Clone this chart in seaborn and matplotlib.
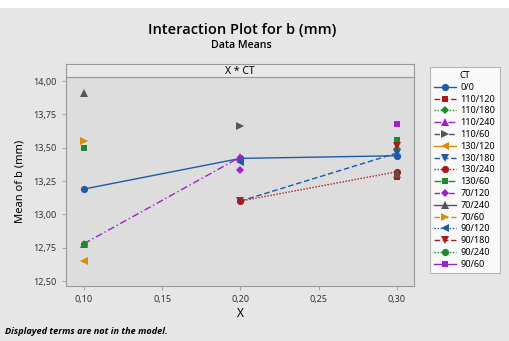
import pandas as pd
import matplotlib
matplotlib.use("Agg")
from matplotlib import pyplot as plt
from matplotlib.ticker import FuncFormatter, FixedLocator
from matplotlib.patches import Rectangle
import seaborn as sns

# cell means
x_level = [0.1, 0.1, 0.1, 0.1, 0.1, 0.1, 0.1,
           0.2, 0.2, 0.2, 0.2, 0.2, 0.2, 0.2,
           0.3, 0.3, 0.3, 0.3, 0.3, 0.3, 0.3, 0.3, 0.3]
ct_level = ["70/240", "70/60", "130/60", "0/0", "90/240", "110/240", "130/120",
            "110/60", "110/240", "0/0", "90/120", "70/120", "130/180", "130/240",
            "90/60", "130/60", "90/180", "110/180", "130/180", "0/0", "130/240", "70/240", "110/120"]
b_mean = [13.91, 13.55, 13.50, 13.19, 12.78, 12.78, 12.65,
          13.66, 13.43, 13.42, 13.39, 13.33, 13.10, 13.10,
          13.68, 13.56, 13.51, 13.49, 13.46, 13.44, 13.32, 13.30, 13.28]

ct_order = ["0/0", "110/120", "110/180", "110/240", "110/60", "130/120", "130/180", "130/240",
            "130/60", "70/120", "70/240", "70/60", "90/120", "90/180", "90/240", "90/60"]
x_ticks = [0.10, 0.15, 0.20, 0.25, 0.30]
y_ticks = [12.50, 12.75, 13.00, 13.25, 13.50, 13.75, 14.00]

# Minitab-like styling per level
blue, red, green, purple, gray, orange = "#1f5aa6", "#a81c1c", "#1e8a2e", "#a020c8", "#555555", "#d98c0a"
colors = [blue, red, green, purple, gray, orange, blue, red, green, purple, gray, orange, blue, red, green, purple]
marks = ["o", "s", "D", "^", ">", "<", "v", "o", "s", "D", "^", ">", "<", "v", "o", "s"]
solid, dash, dot, dashdot, dashdotdot = "", (4, 2), (1, 1.2), (5, 2, 1, 2), (4, 1.5, 1, 1.5, 1, 1.5)
line_styles = [solid, dash, dot, dashdot, dashdotdot, solid, dash, dot,
               dashdot, dashdotdot, solid, dash, dot, dash, dot, solid]
# rough visual balance between marker shapes
marker_size = {"o": 5.2, "s": 5.0, "D": 4.2, "^": 6.2, "v": 6.2, "<": 6.2, ">": 6.2}

df = pd.DataFrame({"X": x_level, "CT": ct_level, "b": b_mean})
df = df.sort_values(["CT", "X"]).reset_index(drop=True)
# Minitab breaks the line where a cell is missing
seg = []
for ct, grp in df.groupby("CT", sort=False):
    s, prev = 0, None
    for x in grp["X"]:
        if prev is not None and x - prev > 0.101:
            s += 1
        seg.append(f"{ct}_{s}")
        prev = x
df["seg"] = seg

plt.rcParams["font.family"] = ["Noto Sans", "DejaVu Sans"]
fig = plt.figure(figsize=(5.1, 3.41), dpi=100, facecolor="#e6e6e6")
fig.patches.append(Rectangle((0, 0.978), 1, 0.022, transform=fig.transFigure,
                             facecolor="white", edgecolor="none", zorder=0))

ax = fig.add_axes([0.129, 0.162, 0.683, 0.612], facecolor="#dddddd")
sns.lineplot(data=df, x="X", y="b", hue="CT", style="CT", units="seg", estimator=None,
             hue_order=ct_order, style_order=ct_order,
             palette=dict(zip(ct_order, colors)),
             markers=dict(zip(ct_order, marks)),
             dashes=dict(zip(ct_order, line_styles)),
             markersize=5, linewidth=1.0, markeredgewidth=0, ax=ax)
for ln in ax.lines:
    m = ln.get_marker()
    if m in marker_size:
        ln.set_markersize(marker_size[m])

ax.set_xlim(0.0885, 0.311)
ax.set_ylim(12.465, 14.03)
ax.xaxis.set_major_locator(FixedLocator(x_ticks))
ax.yaxis.set_major_locator(FixedLocator(y_ticks))
ax.xaxis.set_major_formatter(FuncFormatter(lambda v, p: f"{v:.2f}".replace(".", ",")))
ax.yaxis.set_major_formatter(FuncFormatter(lambda v, p: f"{v:.2f}".replace(".", ",")))
ax.tick_params(labelsize=6.5, colors="#333333", length=3, width=0.6)
ax.tick_params(axis="both", color="#999999")
for sp in ax.spines.values():
    sp.set_color("#9a9a9a")
    sp.set_linewidth(0.8)
ax.set_xlabel("X", fontsize=8.5, labelpad=2)
ax.set_ylabel("Mean of b (mm)", fontsize=8, labelpad=6)

# panel strip
strip = fig.add_axes([0.129, 0.774, 0.683, 0.038], facecolor="#e8e8e8")
strip.set_xticks([])
strip.set_yticks([])
for sp in strip.spines.values():
    sp.set_color("#9a9a9a")
    sp.set_linewidth(0.8)
strip.text(0.5, 0.45, "X * CT", ha="center", va="center", fontsize=7.5)

sns.move_legend(ax, "upper left", bbox_to_anchor=(0.834, 0.818), bbox_transform=fig.transFigure,
                title="CT", fontsize=6.5, title_fontsize=6.5, frameon=True, fancybox=False,
                handlelength=2.4, labelspacing=0.31, borderpad=0.5, handletextpad=0.5)
leg = ax.get_legend()
leg.get_frame().set_facecolor("white")
leg.get_frame().set_edgecolor("#aaaaaa")
leg.get_frame().set_linewidth(0.8)
for h in leg.legend_handles:
    m = h.get_marker()
    if m in marker_size:
        h.set_markersize(marker_size[m])

fig.text(0.474, 0.912, "Interaction Plot for b (mm)", ha="center", va="center",
         fontsize=10.5, weight="semibold", family=["Open Sans", "Noto Sans"])
fig.text(0.474, 0.866, "Data Means", ha="center", va="center", fontsize=7.6,
         weight="semibold", family=["Open Sans", "Noto Sans"])
fig.text(0.01, 0.027, "Displayed terms are not in the model.", ha="left", va="center",
         fontsize=6.6, style="italic", weight="bold", family=["Open Sans", "Noto Sans"])

fig.savefig("out.png", dpi=100, facecolor=fig.get_facecolor())
